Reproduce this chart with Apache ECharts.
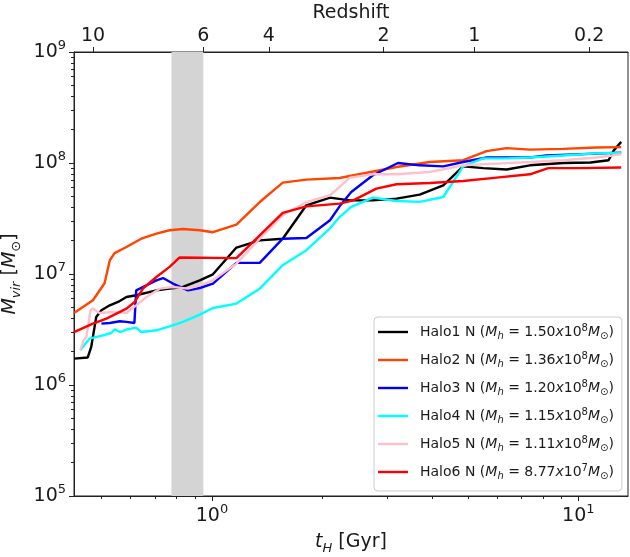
<!DOCTYPE html>
<html><head><meta charset="utf-8">
<script src="https://cdn.jsdelivr.net/npm/echarts@6/dist/echarts.min.js"></script>
<style>html,body{margin:0;padding:0;background:#fff}#c{width:630px;height:557px}</style>
</head><body><div id="c"></div>
<script>
// ---- data ----
const haloNames = ['Halo1 N','Halo2 N','Halo3 N','Halo4 N','Halo5 N','Halo6 N'];
const haloMassMantissa = ['1.50','1.36','1.20','1.15','1.11','8.77'];
const haloMassExponent = ['8','8','8','8','8','7'];

const halo1T = [0.42,0.458,0.468,0.483,0.499,0.526,0.554,0.584,0.621,0.705,0.766,0.833,0.926,1.006,1.166,1.35,1.56,1.81,2.10,2.38,2.75,3.19,3.69,4.28,4.85,5.5,6.37,7.38,9.1,10.8,12.1,12.5,13.1];
const halo1M = [1.73e6,1.77e6,2.2e6,4.1e6,4.71e6,5.22e6,5.6e6,6.2e6,6.43e6,7.13e6,7.38e6,7.64e6,8.77e6,9.94e6,1.73e7,2.01e7,2.08e7,4.16e7,4.88e7,4.61e7,4.61e7,4.78e7,5.19e7,6.3e7,9.33e7,9.0e7,8.73e7,9.53e7,1.0e8,1.01e8,1.06e8,1.3e8,1.55e8];

const halo2T = [0.42,0.473,0.509,0.526,0.542,0.584,0.641,0.705,0.766,0.833,0.926,1.006,1.166,1.35,1.56,1.81,2.23,3.19,3.93,4.85,5.62,6.37,7.38,9.08,11.2,13.1];
const halo2M = [4.45e6,5.8e6,8.25e6,1.33e7,1.54e7,1.75e7,2.08e7,2.31e7,2.48e7,2.54e7,2.48e7,2.38e7,2.79e7,4.45e7,6.66e7,7.08e7,7.33e7,9.2e7,1.02e8,1.06e8,1.28e8,1.36e8,1.32e8,1.34e8,1.38e8,1.39e8];

const halo3T = [0.499,0.526,0.56,0.584,0.614,0.621,0.662,0.705,0.735,0.782,0.86,0.926,1.006,1.166,1.35,1.56,1.81,2.10,2.23,2.40,2.75,3.22,3.69,4.28,4.85,5.62,7.38,8.2,13.1];
const halo3M = [3.57e6,3.62e6,3.75e6,3.70e6,3.62e6,7.13e6,7.9e6,8.77e6,9.2e6,8.2e6,7.13e6,7.48e6,8.2e6,1.26e7,1.26e7,2.08e7,2.11e7,3.05e7,4.07e7,5.48e7,7.75e7,1.0e8,9.53e7,9.33e7,1.02e8,1.12e8,1.12e8,1.17e8,1.24e8];

const halo4T = [0.437,0.463,0.504,0.531,0.542,0.56,0.584,0.621,0.641,0.705,0.766,0.833,0.926,1.006,1.166,1.35,1.56,1.81,2.10,2.23,2.40,2.75,3.19,3.69,4.28,4.85,5.5,6.37,7.38,9.1,11.2,13.1];
const halo4M = [2.06e6,2.62e6,2.8e6,2.94e6,3.18e6,3.0e6,3.16e6,3.29e6,3.0e6,3.11e6,3.38e6,3.70e6,4.31e6,4.94e6,5.41e6,7.38e6,1.2e7,1.64e7,2.58e7,3.26e7,4.02e7,4.88e7,4.55e7,4.46e7,4.94e7,9.33e7,1.10e8,1.10e8,1.12e8,1.17e8,1.22e8,1.24e8];

const halo5T = [0.437,0.446,0.454,0.466,0.473,0.493,0.537,0.584,0.621,0.662,0.72,0.782,0.86,0.926,1.006,1.166,1.35,1.56,1.81,2.10,2.23,2.38,2.75,3.19,3.93,4.85,5.98,7.38,9.1,11.2,13.1];
const halo5M = [2.06e6,2.53e6,2.71e6,4.71e6,4.88e6,4.45e6,4.55e6,4.45e6,5.22e6,6.2e6,7.38e6,7.64e6,7.38e6,7.9e6,8.77e6,1.24e7,2.08e7,3.38e7,4.45e7,5.12e7,6.08e7,7.39e7,7.91e7,7.91e7,8.3e7,9.53e7,9.88e7,1.02e8,1.06e8,1.12e8,1.2e8];

const halo6T = [0.42,0.473,0.515,0.584,0.615,0.648,0.705,0.766,0.816,1.166,1.35,1.56,1.81,2.23,2.43,2.81,3.19,3.93,4.85,5.98,7.38,8.28,10.1,13.1];
const halo6M = [3.0e6,3.57e6,3.96e6,4.88e6,5.6e6,7.4e6,9.4e6,1.16e7,1.41e7,1.39e7,2.23e7,3.55e7,4.07e7,4.31e7,4.61e7,5.88e7,6.43e7,6.6e7,6.88e7,7.39e7,7.91e7,9.0e7,9.0e7,9.1e7];

const haloColors = ['#000000','#FF4500','#0000FF','#00FFFF','#FFC0CB','#FF0000'];

const redshiftLabels = ['10','6','4','2','1','0.2'];
const redshiftAges = [0.4735,0.947,1.43,2.94,5.205,10.71];

const xTickDecades = [0,1];
const yTickDecades = [5,6,7,8,9];
const tMin = 0.42, tMax = 13.67;
const mMin = 1e5, mMax = 1e9;
const bandStart = 0.775, bandEnd = 0.947;

// ---- build ----
const L = Math.log10;
const haloT = [halo1T,halo2T,halo3T,halo4T,halo5T,halo6T];
const haloM = [halo1M,halo2M,halo3M,halo4M,halo5M,halo6M];

const minorX = [];
for (let e = -1; e <= 1; e++) for (let k = 2; k <= 9; k++) {
  const v = k * Math.pow(10, e);
  if (v > tMin && v < tMax) minorX.push(L(v));
}
const minorY = [];
for (let e = 5; e <= 8; e++) for (let k = 2; k <= 9; k++) minorY.push(L(k * Math.pow(10, e)));

const FONT = 'DejaVu Sans';
const TXT = '#1a1a1a';
const AX = '#222222';
const tickRich = {
  b: {fontFamily: FONT, fontSize: 19, color: TXT, lineHeight: 26},
  sup: {fontFamily: FONT, fontSize: 13, color: TXT, lineHeight: 16, verticalAlign: 'top'}
};
const nameRich = {
  b: {fontFamily: FONT, fontSize: 19, color: TXT, lineHeight: 26},
  i: {fontFamily: FONT, fontSize: 19, color: TXT, fontStyle: 'italic', lineHeight: 26},
  sub: {fontFamily: FONT, fontSize: 13, color: TXT, fontStyle: 'italic', lineHeight: 14, verticalAlign: 'bottom'},
  subn: {fontFamily: FONT, fontSize: 13, color: TXT, lineHeight: 14, verticalAlign: 'bottom'}
};
const legendRich = {
  g: {width: 7, fontSize: 14, lineHeight: 18},
  r: {fontFamily: FONT, fontSize: 14, color: TXT, lineHeight: 18},
  i: {fontFamily: FONT, fontSize: 14, color: TXT, fontStyle: 'italic', lineHeight: 18},
  isub: {fontFamily: FONT, fontSize: 10, color: TXT, fontStyle: 'italic', lineHeight: 10, verticalAlign: 'bottom'},
  sub: {fontFamily: FONT, fontSize: 10, color: TXT, lineHeight: 10, verticalAlign: 'bottom'},
  sup: {fontFamily: FONT, fontSize: 10, color: TXT, lineHeight: 10, verticalAlign: 'top'}
};

const lineStyleAx = {color: AX, width: 1};

const series = haloNames.map((n, i) => ({
  name: n,
  type: 'line',
  xAxisIndex: 0, yAxisIndex: 0,
  showSymbol: false, symbol: 'none',
  lineStyle: {color: haloColors[i], width: 2.4},
  itemStyle: {color: haloColors[i]},
  data: haloT[i].map((t, j) => [t, haloM[i][j]]),
  z: 2 + i
}));
series[0].markArea = {
  silent: true,
  itemStyle: {color: '#d4d4d4'},
  data: [[{xAxis: bandStart}, {xAxis: bandEnd}]]
};

const option = {
  animation: false,
  backgroundColor: '#fff',
  grid: {left: 74, right: 2, top: 52, bottom: 61, show: true, borderColor: AX, borderWidth: 1, backgroundColor: 'transparent', outerBoundsMode: 'none'},
  legend: {
    orient: 'vertical', left: 374, top: 317,
    padding: [6, 8, 10, 4],
    icon: 'rect',
    itemWidth: 30, itemHeight: 2.4, itemGap: 10,
    backgroundColor: 'rgba(255,255,255,0.8)', borderColor: '#cccccc', borderWidth: 1, borderRadius: 4,
    data: haloNames,
    formatter: function (name) {
      const i = haloNames.indexOf(name);
      return '{g| }{r|' + name + ' (}{i|M}{isub|h}{r| = ' + haloMassMantissa[i] + '}{i|x}{r|10}{sup|' +
        haloMassExponent[i] + '}{i|M}{sub|\u2299}{r|)}';
    },
    textStyle: {fontFamily: FONT, fontSize: 14, color: TXT, rich: legendRich}
  },
  xAxis: [
    {type: 'log', logBase: 10, min: tMin, max: tMax, show: false},
    {
      type: 'value', position: 'bottom', min: L(tMin), max: L(tMax),
      axisLine: {show: true, onZero: false, lineStyle: lineStyleAx},
      axisTick: {show: true, customValues: xTickDecades, length: 5, lineStyle: lineStyleAx},
      axisLabel: {customValues: xTickDecades, margin: 7, formatter: v => '{b|10}{sup|' + Math.round(v) + '}', rich: tickRich},
      splitLine: {show: false},
      name: '{i|t}{sub|H}{b| [Gyr]}', nameLocation: 'middle', nameGap: 33,
      nameTextStyle: {rich: nameRich}
    },
    {
      type: 'value', position: 'bottom', min: L(tMin), max: L(tMax),
      axisLine: {show: false, onZero: false},
      axisTick: {show: true, customValues: minorX, length: 3, lineStyle: lineStyleAx},
      axisLabel: {show: false}, splitLine: {show: false}
    },
    {
      type: 'value', position: 'top', min: L(tMin), max: L(tMax),
      axisLine: {show: true, onZero: false, lineStyle: lineStyleAx},
      axisTick: {show: true, customValues: redshiftAges.map(L), length: 5, lineStyle: lineStyleAx},
      axisLabel: {
        customValues: redshiftAges.map(L), margin: 6,
        formatter: function (v) {
          let best = 0;
          redshiftAges.forEach((a, k) => { if (Math.abs(L(a) - v) < Math.abs(L(redshiftAges[best]) - v)) best = k; });
          return redshiftLabels[best];
        },
        fontFamily: FONT, fontSize: 19, color: TXT
      },
      splitLine: {show: false},
      name: 'Redshift', nameLocation: 'middle', nameGap: 29,
      nameTextStyle: {fontFamily: FONT, fontSize: 19, color: TXT}
    }
  ],
  yAxis: [
    {type: 'log', logBase: 10, min: mMin, max: mMax, show: false},
    {
      type: 'value', position: 'left', min: 5, max: 9,
      axisLine: {show: true, onZero: false, lineStyle: lineStyleAx},
      axisTick: {show: true, customValues: yTickDecades, length: 5, lineStyle: lineStyleAx},
      axisLabel: {customValues: yTickDecades, margin: 8, formatter: v => '{b|10}{sup|' + Math.round(v) + '}', rich: tickRich},
      splitLine: {show: false},
      name: '{i|M}{sub|vir}{b| [}{i|M}{subn|\u2299}{b|]}', nameLocation: 'middle', nameGap: 37, nameRotate: 90,
      nameTextStyle: {rich: nameRich}
    },
    {
      type: 'value', position: 'left', min: 5, max: 9,
      axisLine: {show: false, onZero: false},
      axisTick: {show: true, customValues: minorY, length: 3, lineStyle: lineStyleAx},
      axisLabel: {show: false}, splitLine: {show: false}
    }
  ],
  series: series
};

const chart = echarts.init(document.getElementById('c'), null, {renderer: 'canvas'});
chart.setOption(option);
</script>
</body></html>
